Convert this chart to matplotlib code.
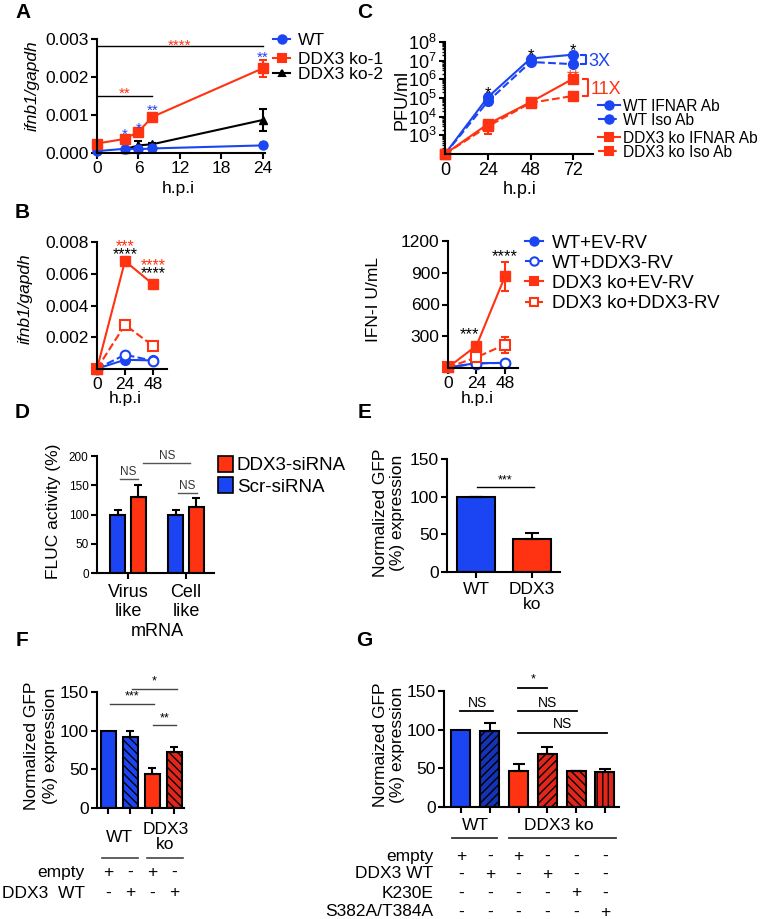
import matplotlib
matplotlib.use('Agg')
import matplotlib.pyplot as plt
from matplotlib.lines import Line2D
from matplotlib.patches import Rectangle
from matplotlib import transforms as mtrans
from matplotlib.ticker import FixedLocator, FormatStrFormatter, LogLocator, NullFormatter, LogFormatterSciNotation

plt.rcParams['font.family'] = ['Liberation Sans', 'DejaVu Sans']
plt.rcParams['mathtext.fontset'] = 'custom'
plt.rcParams['mathtext.rm'] = 'Liberation Sans'
plt.rcParams['mathtext.it'] = 'Liberation Sans:italic'
plt.rcParams['hatch.linewidth'] = 1.0
plt.rcParams['axes.linewidth'] = 1.5

W, H = 775, 919
BLUE = '#1b45f2'
RED = '#ff3211'
DBLUE = '#1533b5'
DRED = '#e2261a'

# ---------------- DATA ----------------
# Panel A
a_ticks = [0, 6, 12, 18, 24]
a_x_wt = [0, 4, 6, 8, 24]
a_wt = [0.00005, 0.00011, 0.0001, 0.00012, 0.0002]
a_wt_err = [0.00002, 0.00002, 0.00002, 0.00002, 0.00005]
a_x_ko1 = [0, 4, 6, 8, 24]
a_ko1 = [0.00025, 0.00037, 0.00056, 0.00095, 0.00223]
a_ko1_err = [0.00003, 0.00004, 0.00005, 0.0001, 0.00022]
a_x_ko2 = [4, 6, 8, 24]
a_ko2 = [0.0001, 0.0002, 0.00023, 0.00087]
a_ko2_err = [0.00002, 0.00012, 0.00003, 0.0003]
a_labels = ['WT', 'DDX3 ko-1', 'DDX3 ko-2']

# Panel C
c_x = [0, 24, 48, 72]
c_wt_ifnar = [100, 1.1e5, 1.3e7, 2.1e7]
c_wt_iso = [100, 6.5e4, 8.5e6, 6.5e6]
c_ko_ifnar = [100, 4e3, 6e4, 1.1e6]
c_ko_iso = [100, 3e3, 5.5e4, 1.3e5]
c_ko_iso_lo = [0, 1.8e3, 0, 0]
c_ko_iso_hi = [0, 2e3, 0, 0]
c_wt_iso_lo = [0, 2.5e4, 0, 0]
c_labels = ['WT IFNAR Ab', 'WT Iso Ab', 'DDX3 ko IFNAR Ab', 'DDX3 ko Iso Ab']

# Panel B
b_x = [0, 24, 48]
b_wt_ev = [0.00002, 0.00058, 0.00054]
b_wt_ddx3 = [0.00002, 0.0009, 0.00052]
b_ko_ev = [0.00002, 0.0068, 0.00534]
b_ko_ddx3 = [0.00002, 0.00278, 0.00146]
b2_wt_ev = [5, 47, 47]
b2_wt_ddx3 = [5, 42, 50]
b2_ko_ev = [5, 211, 865]
b2_ko_ev_err = [0, 18, 140]
b2_ko_ddx3 = [5, 101, 221]
b2_ko_ddx3_err = [0, 15, 75]
b_labels = ['WT+EV-RV', 'WT+DDX3-RV', 'DDX3 ko+EV-RV', 'DDX3 ko+DDX3-RV']

# Panel D
d_groups = ['Virus\nlike', 'Cell\nlike']
d_scr = [100, 100]
d_scr_err = [7, 7]
d_ddx3 = [130, 112]
d_ddx3_err = [21, 16]

# Panel E
e_cats = ['WT', 'DDX3\nko']
e_vals = [100, 44]
e_err = [0, 8]

# Panel F
f_vals = [100, 92, 44, 73]
f_err = [0, 8, 8, 6]
f_rows = ['empty', 'DDX3  WT']
f_table = [['+', '-', '+', '-'], ['-', '+', '-', '+']]

# Panel G
g_vals = [100, 98, 47, 69, 46, 45]
g_err = [0, 11, 8, 8, 1, 4]
g_rows = ['empty', 'DDX3 WT', 'K230E', 'S382A/T384A']
g_table = [['+', '-', '+', '-', '-', '-'],
           ['-', '+', '-', '+', '-', '-'],
           ['-', '-', '-', '-', '+', '-'],
           ['-', '-', '-', '-', '-', '+']]

# ---------------- FIGURE ----------------
fig = plt.figure(figsize=(W / 100, H / 100), dpi=100)


def fy(y):
    return 1 - y / H


def fx(x):
    return x / W


def add_ax(x0, y0, x1, y1, fs=12):
    ax = fig.add_axes([x0 / W, 1 - y1 / H, (x1 - x0) / W, (y1 - y0) / H])
    ax.spines[['top', 'right']].set_visible(False)
    ax.tick_params(direction='out', length=4, width=1.5, color='black', labelsize=fs, pad=2)
    return ax


def eb(ax, x, y, yerr=None, **kw):
    c = ax.errorbar(x, y, yerr=yerr, lw=1.5, elinewidth=1.5, capsize=3, capthick=1.5, **kw)
    for ch in c.get_children():
        ch.set_clip_on(False)
    return c


def star(ax, x, y, s, color='black', fs=11):
    ax.annotate(s, (x, y), xytext=(0, -0.55 * fs), textcoords='offset points',
                ha='center', va='baseline', fontsize=fs, color=color, annotation_clip=False)


def sigline(ax, x0, x1, y, color='black', lw=1.0):
    ax.plot([x0, x1], [y, y], color=color, lw=lw, clip_on=False)


def leg_line(x0, x1, y, text, color, ls='-', marker='o', mfc=None, ms=6, fs=12, tx=None):
    fig.add_artist(Line2D([fx(x0), fx(x1)], [fy(y)] * 2, transform=fig.transFigure,
                          color=color, ls=ls, lw=1.5))
    fig.add_artist(Line2D([fx((x0 + x1) / 2)], [fy(y)], transform=fig.transFigure,
                          marker=marker, color=color, mfc=mfc if mfc else color, ms=ms, mew=1.5))
    fig.text(fx(tx), fy(y), text, va='center_baseline', ha='left', fontsize=fs)


def panel_label(x, y, s):
    fig.text(fx(x), fy(y), s, fontsize=15, fontweight='bold', ha='left', va='center')


def ylab(x, y, s, fs=12, style='normal', ls=1.2):
    fig.text(fx(x), fy(y), s, rotation=90, ha='center', va='center', fontsize=fs,
             style=style, multialignment='center', linespacing=ls)


# ---------- Panel A ----------
axA = add_ax(97, 39, 265, 153, fs=12.5)
eb(axA, a_x_ko2, a_ko2, a_ko2_err, color='black', marker='^', ms=6)
eb(axA, a_x_wt, a_wt, a_wt_err, color=BLUE, marker='o', ms=6.5)
eb(axA, a_x_ko1, a_ko1, a_ko1_err, color=RED, marker='s', ms=6.5)
axA.set_xlim(0, 24.3)
axA.set_ylim(0, 0.003)
axA.set_xticks(a_ticks)
axA.set_yticks([0, 0.001, 0.002, 0.003])
axA.yaxis.set_major_formatter(FormatStrFormatter('%.3f'))
star(axA, 4, 0.000605, '*', BLUE, 11)
star(axA, 6, 0.00076, '*', BLUE, 11)
star(axA, 8, 0.00124, '**', BLUE, 11)
star(axA, 24, 0.00263, '**', BLUE, 11)
sigline(axA, 0, 8, 0.0015)
star(axA, 4, 0.00168, '**', RED, 11)
sigline(axA, 0, 24, 0.00282)
star(axA, 12, 0.00294, '****', RED, 11)
ylab(32, 86, 'ifnb1/gapdh', 12.5, 'italic')
fig.text(fx(178), fy(189), 'h.p.i', ha='center', va='center', fontsize=12.5)
leg_line(273, 290, 39, a_labels[0], BLUE, marker='o', tx=298, fs=12.5)
leg_line(273, 290, 58, a_labels[1], RED, marker='s', tx=298, fs=12.5)
leg_line(273, 290, 73, a_labels[2], 'black', marker='^', ms=5, tx=298, fs=12.5)

# ---------- Panel C ----------
axC = add_ax(445, 42, 593, 154, fs=13)
axC.set_yscale('log')
eb(axC, c_x, c_wt_ifnar, None, color=BLUE, marker='o', ms=7)
eb(axC, c_x, c_wt_iso, [c_wt_iso_lo, [0] * 4], color=BLUE, marker='o', ms=7, ls='--')
eb(axC, c_x, c_ko_ifnar, None, color=RED, marker='s', ms=7)
eb(axC, c_x, c_ko_iso, [c_ko_iso_lo, c_ko_iso_hi], color=RED, marker='s', ms=7, ls='--')
axC.set_xlim(0, 83)
axC.set_ylim(1e2, 1e8)
axC.set_xticks(c_x)
axC.yaxis.set_major_locator(FixedLocator([1e3, 1e4, 1e5, 1e6, 1e7, 1e8]))
axC.yaxis.set_major_formatter(LogFormatterSciNotation())
axC.yaxis.set_minor_locator(LogLocator(base=10, subs=range(2, 10), numticks=20))
axC.yaxis.set_minor_formatter(NullFormatter())
axC.tick_params(which='minor', length=2, width=1.0)
star(axC, 24, 10 ** 5.48, '*', 'black', 12)
star(axC, 48, 10 ** 7.52, '*', 'black', 12)
star(axC, 72, 10 ** 7.79, '*', 'black', 12)
star(axC, 72, 10 ** 6.39, '**', RED, 12)
# fold-change brackets
axC.plot([76.5, 79, 79, 76.5], [c_wt_ifnar[3], c_wt_ifnar[3], c_wt_iso[3], c_wt_iso[3]],
         color=BLUE, lw=1.5, clip_on=False)
axC.text(80.5, (c_wt_ifnar[3] * c_wt_iso[3]) ** 0.5, '3X', color=BLUE, fontsize=13,
         ha='left', va='center_baseline', clip_on=False)
axC.plot([77.5, 80, 80, 77.5], [c_ko_ifnar[3], c_ko_ifnar[3], c_ko_iso[3], c_ko_iso[3]],
         color=RED, lw=1.5, clip_on=False)
axC.text(81.5, (c_ko_ifnar[3] * c_ko_iso[3]) ** 0.5, '11X', color=RED, fontsize=13,
         ha='left', va='center_baseline', clip_on=False)
ylab(402, 100, 'PFU/ml', 13)
fig.text(fx(520), fy(189), 'h.p.i', ha='center', va='center', fontsize=13)
leg_line(598, 620, 105, c_labels[0], BLUE, marker='o', tx=623, fs=11.2)
leg_line(598, 620, 119, c_labels[1], BLUE, ls='--', marker='o', tx=623, fs=11.2)
leg_line(598, 620, 137, c_labels[2], RED, marker='s', tx=623, fs=11.2)
leg_line(598, 620, 151, c_labels[3], RED, ls='--', marker='s', tx=623, fs=11.2)

# ---------- Panel B left ----------
axB1 = add_ax(97, 242, 167, 369, fs=12.5)
eb(axB1, b_x, b_wt_ev, None, color=BLUE, marker='o', ms=7)
eb(axB1, b_x, b_wt_ddx3, None, color=BLUE, marker='o', ms=7, ls='--', mfc='white', mew=1.5)
eb(axB1, b_x, b_ko_ddx3, None, color=RED, marker='s', ms=7, ls='--', mfc='white', mew=1.5)
eb(axB1, b_x, b_ko_ev, None, color=RED, marker='s', ms=7)
axB1.set_xlim(0, 60)
axB1.set_ylim(0, 0.008)
axB1.set_xticks(b_x)
axB1.set_yticks([0.002, 0.004, 0.006, 0.008])
axB1.yaxis.set_major_formatter(FormatStrFormatter('%.3f'))
star(axB1, 24, 0.00796, '***', RED, 11.5)
star(axB1, 24, 0.0075, '****', 'black', 11.5)
star(axB1, 48, 0.0068, '****', RED, 11.5)
star(axB1, 48, 0.00628, '****', 'black', 11.5)
ylab(25, 299, 'ifnb1/gapdh', 12.5, 'italic')
fig.text(fx(125), fy(398), 'h.p.i', ha='center', va='center', fontsize=12.5)

# ---------- Panel B right ----------
axB2 = add_ax(448, 241, 518, 368, fs=12.5)
eb(axB2, b_x, b2_wt_ev, None, color=BLUE, marker='o', ms=7)
eb(axB2, b_x, b2_wt_ddx3, None, color=BLUE, marker='o', ms=7, ls='--', mfc='white', mew=1.5)
eb(axB2, b_x, b2_ko_ddx3, b2_ko_ddx3_err, color=RED, marker='s', ms=7, ls='--', mfc='white', mew=1.5)
eb(axB2, b_x, b2_ko_ev, b2_ko_ev_err, color=RED, marker='s', ms=7)
axB2.set_xlim(0, 59)
axB2.set_ylim(0, 1200)
axB2.set_xticks(b_x)
axB2.set_yticks([300, 600, 900, 1200])
star(axB2, 17.7, 359, '***', 'black', 12)
star(axB2, 48, 1096, '****', 'black', 12)
ylab(373, 300, 'IFN-I U/mL', 12.5)
fig.text(fx(477), fy(398), 'h.p.i', ha='center', va='center', fontsize=12.5)
leg_line(525, 543, 241, b_labels[0], BLUE, marker='o', tx=552, fs=13.5)
leg_line(525, 543, 261, b_labels[1], BLUE, ls='--', marker='o', mfc='white', tx=552, fs=13.5)
leg_line(525, 543, 281, b_labels[2], RED, marker='s', tx=552, fs=13.5)
leg_line(525, 543, 302, b_labels[3], RED, ls='--', marker='s', mfc='white', tx=552, fs=13.5)

# ---------- Panel D ----------
axD = add_ax(97, 456, 214, 573, fs=8.5)
dpos = list(range(len(d_groups)))
off, bw = 0.18, 0.26
axD.bar([p - off for p in dpos], d_scr, bw, color=BLUE, edgecolor='black', lw=1.5,
        yerr=[[0] * 2, d_scr_err], capsize=3, error_kw=dict(elinewidth=1.5, capthick=1.5))
axD.bar([p + off for p in dpos], d_ddx3, bw, color=RED, edgecolor='black', lw=1.5,
        yerr=[[0] * 2, d_ddx3_err], capsize=3, error_kw=dict(elinewidth=1.5, capthick=1.5))
axD.set_xlim(-0.534, 1.483)
axD.set_ylim(0, 200)
axD.set_yticks([0, 50, 100, 150, 200])
axD.set_xticks(dpos)
axD.set_xticklabels(d_groups, fontsize=13, linespacing=1.15)
axD.tick_params(axis='x', pad=4)
sigline(axD, -0.14, 0.17, 160.7, '#555555')
axD.text(0.0, 163, 'NS', ha='center', va='bottom', fontsize=8.5, color='#333333')
sigline(axD, 0.86, 1.19, 136.8, '#555555')
axD.text(1.02, 139, 'NS', ha='center', va='bottom', fontsize=8.5, color='#333333')
sigline(axD, 0.26, 1.07, 188, '#555555')
axD.text(0.67, 190, 'NS', ha='center', va='bottom', fontsize=8.5, color='#333333')
ylab(54, 511, 'FLUC activity (%)', 12.5)
fig.text(fx(157), fy(631), 'mRNA', ha='center', va='center', fontsize=13)
fig.add_artist(Rectangle((fx(218), fy(472)), 15 / W, 16 / H, transform=fig.transFigure,
                         facecolor=RED, edgecolor='black', lw=1.2))
fig.text(fx(237), fy(464), 'DDX3-siRNA', va='center_baseline', fontsize=13.5)
fig.add_artist(Rectangle((fx(218), fy(493)), 15 / W, 16 / H, transform=fig.transFigure,
                         facecolor=BLUE, edgecolor='black', lw=1.2))
fig.text(fx(237), fy(485), 'Scr-siRNA', va='center_baseline', fontsize=13.5)

# ---------- Panel E ----------
axE = add_ax(447, 459, 560, 572, fs=12.5)
epos = list(range(len(e_cats)))
axE.bar(epos, e_vals, 0.68, color=[BLUE, RED], edgecolor='black', lw=1.5,
        yerr=[[0] * 2, e_err], capsize=5, error_kw=dict(elinewidth=1.5, capthick=1.5))
axE.set_xlim(-0.52, 1.5)
axE.set_ylim(0, 150)
axE.set_yticks([0, 50, 100, 150])
axE.set_xticks(epos)
axE.set_xticklabels(e_cats, fontsize=12.5, linespacing=1.05)
axE.tick_params(axis='x', pad=3)
sigline(axE, 0.02, 1.04, 112.8)
axE.text(0.52, 114, '***', ha='center', va='bottom', fontsize=9)
ylab(389, 513, 'Normalized GFP\n(%) expression', 12.5, ls=1.1)

# ---------- Panel F ----------
axF = add_ax(97, 692, 184, 808, fs=12.5)
fpos = list(range(len(f_vals)))
f_colors = [BLUE, BLUE, RED, DRED]
f_hatch = [None, '\\\\\\\\', None, '\\\\\\\\']
for p, v, e, c, h in zip(fpos, f_vals, f_err, f_colors, f_hatch):
    axF.bar(p, v, 0.68, color=c, edgecolor='black', lw=1.5, hatch=h,
            yerr=[[0], [e]] if e else None, capsize=3, error_kw=dict(elinewidth=1.5, capthick=1.5))
axF.set_xlim(-0.5, 3.45)
axF.set_ylim(0, 150)
axF.set_yticks([0, 50, 100, 150])
axF.set_xticks(fpos)
axF.set_xticklabels([])
sigline(axF, 0.09, 2.09, 134.5, '#444444')
axF.text(1.09, 136, '***', ha='center', va='bottom', fontsize=9)
sigline(axF, 1.09, 3.14, 154, '#444444')
axF.text(2.1, 155.5, '*', ha='center', va='bottom', fontsize=9)
sigline(axF, 2.05, 3.09, 107, '#444444')
axF.text(2.55, 108.5, '**', ha='center', va='bottom', fontsize=9)
tF = mtrans.blended_transform_factory(axF.transData, fig.transFigure)
axF.text(0.5, fy(837), 'WT', transform=tF, ha='center', va='center', fontsize=12.5)
axF.text(2.6, fy(837), 'DDX3\nko', transform=tF, ha='center', va='center', fontsize=12.5,
         linespacing=1.05)
axF.plot([-0.27, 1.36], [fy(858)] * 2, transform=tF, color='#444444', lw=1.2, clip_on=False)
axF.plot([1.77, 3.4], [fy(858)] * 2, transform=tF, color='#444444', lw=1.2, clip_on=False)
for r, (name, row) in enumerate(zip(f_rows, f_table)):
    yy = fy([872, 893][r])
    axF.text(-1.05, yy, name, transform=tF, ha='right', va='center', fontsize=12.5)
    for p, s in zip(fpos, row):
        axF.text(p, yy, s, transform=tF, ha='center', va='center', fontsize=12.5)
ylab(41, 746, 'Normalized GFP\n(%) expression', 12.5, ls=1.3)

# ---------- Panel G ----------
axG = add_ax(444, 691, 619, 807, fs=12.5)
gpos = list(range(len(g_vals)))
g_colors = [BLUE, DBLUE, RED, DRED, DRED, DRED]
g_hatch = [None, '////', None, '////', '\\\\\\\\', '|||']
for p, v, e, c, h in zip(gpos, g_vals, g_err, g_colors, g_hatch):
    axG.bar(p, v, 0.66, color=c, edgecolor='black', lw=1.5, hatch=h,
            yerr=[[0], [e]] if e else None, capsize=4, error_kw=dict(elinewidth=1.5, capthick=1.5))
axG.set_xlim(-0.59, 5.49)
axG.set_ylim(0, 150)
axG.set_yticks([0, 50, 100, 150])
axG.set_xticks(gpos)
axG.set_xticklabels([])
sigline(axG, -0.03, 1.11, 124, 'black', 1.3)
axG.text(0.56, 126, 'NS', ha='center', va='bottom', fontsize=10)
sigline(axG, 1.98, 2.99, 154, 'black', 1.3)
axG.text(2.5, 157, '*', ha='center', va='bottom', fontsize=9)
sigline(axG, 1.98, 4.03, 124, 'black', 1.3)
axG.text(3.0, 126, 'NS', ha='center', va='bottom', fontsize=10)
sigline(axG, 1.98, 5.07, 95.7, 'black', 1.3)
axG.text(3.54, 98, 'NS', ha='center', va='bottom', fontsize=10)
tG = mtrans.blended_transform_factory(axG.transData, fig.transFigure)
axG.text(0.5, fy(825), 'WT', transform=tG, ha='center', va='center', fontsize=12.5)
axG.text(3.4, fy(825), 'DDX3 ko', transform=tG, ha='center', va='center', fontsize=12.5)
axG.plot([-0.31, 1.25], [fy(838)] * 2, transform=tG, color='#333333', lw=1.3, clip_on=False)
axG.plot([1.67, 5.38], [fy(838)] * 2, transform=tG, color='#333333', lw=1.3, clip_on=False)
for r, (name, row) in enumerate(zip(g_rows, g_table)):
    yy = fy([856, 874, 893, 912][r])
    axG.text(-0.97, yy, name, transform=tG, ha='right', va='center', fontsize=12.5)
    for p, s in zip(gpos, row):
        axG.text(p, yy, s, transform=tG, ha='center', va='center', fontsize=12.5)
ylab(389, 745, 'Normaized GFP\n(%) expression', 12.5, ls=1.1)

# panel letters
panel_label(15, 12, 'A')
panel_label(357, 12, 'C')
panel_label(15, 212, 'B')
panel_label(15, 412, 'D')
panel_label(358, 412, 'E')
panel_label(16, 640, 'F')
panel_label(356, 640, 'G')

fig.savefig('out.png', dpi=100)
